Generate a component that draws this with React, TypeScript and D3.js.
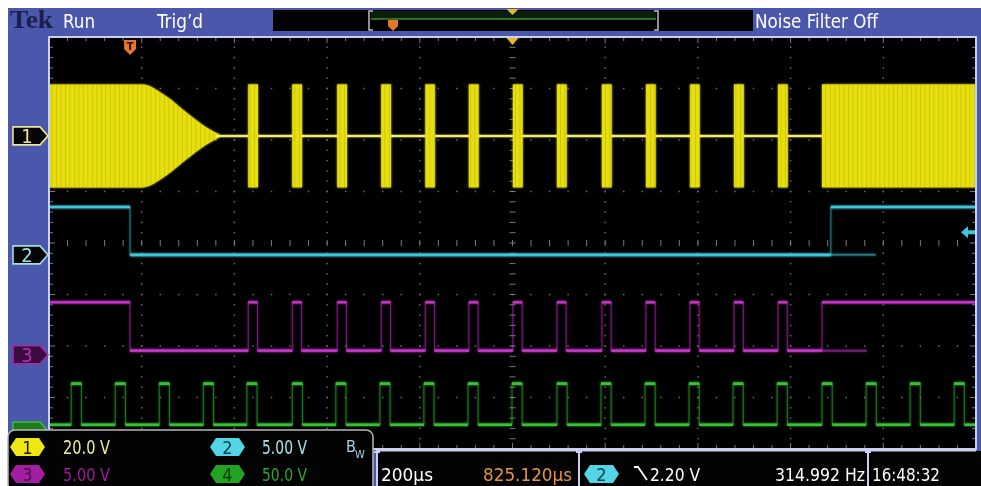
import * as d3 from 'd3';

const WIDTH = 981;
const HEIGHT = 486;
const NARROW = "'Liberation Sans Narrow', 'DejaVu Sans Condensed', 'Roboto Condensed', sans-serif";

// graticule on screen
const GRID = { left: 49, right: 976, top: 37, bottom: 449 };
const H_DIVS = 10;
const V_DIVS = 8;
const MINOR = 5;

// horizontal: 200 µs/div, trigger position 825.12 µs from centre
const timePerDiv = 200;
const horizontalPosition = 825.12;

// vertical: volts/div and ground offset (divisions from centre)
const ch1Scale = 20;
const ch1Offset = 2.08;
const ch2Scale = 5;
const ch2Offset = -0.23;
const ch3Scale = 5;
const ch3Offset = -2.17;
const ch4Scale = 50;
const ch4Offset = -3.65;
const ch2TriggerLevel = 2.2;

// ch1 - carrier envelope, decays after trigger, then bursts
const ch1Peak = 20;
const ch1DecayTimes = [-175, 26, 78, 121, 164, 194];
const ch1DecayLevels = [1, 1, 0.77, 0.46, 0.17, 0.02];
const burstTimes = [255, 350, 447, 542, 637, 731, 826, 921, 1018, 1113, 1208, 1303, 1398];
const burstWidth = 21;
const ch1ResumeTime = 1493;

// ch2
const ch2Times = [-175, 0, 0, 1512, 1512, 1825];
const ch2Volts = [4.65, 4.65, 0, 0, 4.65, 4.65];
const ch2GhostTimes = [1512, 1609];
const ch2GhostVolts = [0, 0];

// ch3 - pulses line up with ch1 bursts
const ch3Low = 0.4;
const ch3High = 5.1;
const ch3FallTime = 0;
const ch3RiseTime = 1493;
const ch3GhostEnd = 1590;
const ch3PulseWidth = 20;

// ch4 - clock
const ch4Edges = [-127, -32, 63, 158, 252, 350, 444, 539, 634, 729, 824, 921, 1016, 1111, 1206, 1301, 1396, 1493, 1588, 1683, 1778];
const ch4Low = 6;
const ch4High = 46;
const ch4PulseWidth = 22;

const YELLOW = '#e6de10';
const CYAN = '#3ec6d6';
const MAGENTA = '#c232c4';
const GREEN = '#34c234';
const BEZEL = '#4a57ab';
const FRAME = '#c9d0f2';

const x = d3
  .scaleLinear()
  .domain([horizontalPosition - (timePerDiv * H_DIVS) / 2, horizontalPosition + (timePerDiv * H_DIVS) / 2])
  .range([GRID.left, GRID.right]);
const yDiv = d3.scaleLinear().domain([-V_DIVS / 2, V_DIVS / 2]).range([GRID.bottom, GRID.top]);
const yv = (offset: number, scale: number) => (v: number) => yDiv(offset + v / scale);
const y1 = yv(ch1Offset, ch1Scale);
const y2 = yv(ch2Offset, ch2Scale);
const y3 = yv(ch3Offset, ch3Scale);
const y4 = yv(ch4Offset, ch4Scale);

const [tMin, tMax] = x.domain();

const pulseTrain = (
  starts: number[],
  width: number,
  low: number,
  high: number,
  from: number,
  to: number
): [number, number][] => {
  const pts: [number, number][] = [[from, low]];
  starts.forEach((t) => {
    pts.push([t, low], [t, high], [t + width, high], [t + width, low]);
  });
  pts.push([to, low]);
  return pts;
};

const line = d3
  .line<[number, number]>()
  .x((d) => x(d[0]))
  .y((d) => d[1]);

// digital traces: faint thin edges, bright thick levels
const Trace = ({ pts, color }: { pts: [number, number][]; color: string }) => {
  const segs: string[] = [];
  for (let i = 1; i < pts.length; i++) {
    if (pts[i][1] === pts[i - 1][1] && pts[i][0] !== pts[i - 1][0]) {
      segs.push(line([pts[i - 1], pts[i]]) ?? '');
    }
  }
  return (
    <g>
      <path d={line(pts) ?? ''} stroke={color} strokeWidth={1} fill="none" opacity={0.55} />
      <path d={segs.join('')} stroke={color} strokeWidth={2.6} fill="none" />
    </g>
  );
};

const Marker = ({ cy, label, stroke, fill, text }: { cy: number; label?: string; stroke: string; fill: string; text: string }) => (
  <g>
    <path d={`M13,${cy - 9}H40L48,${cy}L40,${cy + 9}H13Z`} fill={fill} stroke={stroke} strokeWidth={1.6} />
    {label && (
      <text x={27} y={cy + 7} fill={text} fontFamily={NARROW} fontSize={20} textAnchor="middle">
        {label}
      </text>
    )}
  </g>
);

const Badge = ({ x0, y0, label, fill, text }: { x0: number; y0: number; label: string; fill: string; text: string }) => (
  <g>
    <path
      d={`M${x0 + 6},${y0}H${x0 + 29}L${x0 + 35},${y0 + 9}L${x0 + 29},${y0 + 18}H${x0 + 6}L${x0},${y0 + 9}Z`}
      fill={fill}
    />
    <text x={x0 + 17.5} y={y0 + 15.5} fill={text} fontFamily={NARROW} fontSize={18} textAnchor="middle">
      {label}
    </text>
  </g>
);

const IBeam = ({ x0 }: { x0: number }) => (
  <path d={`M${x0 - 3},452H${x0 + 3}M${x0},452V486`} stroke={FRAME} strokeWidth={2} fill="none" />
);

const Label = ({ x0, y0, w, fill, children, size = 19 }: { x0: number; y0: number; w: number; fill: string; children: string; size?: number }) => (
  <text x={x0} y={y0} fontFamily={NARROW} fontSize={size} fill={fill} textLength={w} lengthAdjust="spacingAndGlyphs">
    {children}
  </text>
);

export default function App() {
  const divW = (GRID.right - GRID.left) / H_DIVS;
  const divH = (GRID.bottom - GRID.top) / V_DIVS;
  const cx = (GRID.left + GRID.right) / 2;
  const cy = (GRID.top + GRID.bottom) / 2;

  // graticule dots and ticks
  const dots: JSX.Element[] = [];
  for (let i = 1; i < H_DIVS; i++) {
    const gx = GRID.left + i * divW;
    if (i === H_DIVS / 2) continue;
    for (let k = 1; k < V_DIVS * MINOR; k++) {
      dots.push(<rect key={`v${i}-${k}`} x={gx - 0.75} y={GRID.top + (k * divH) / MINOR - 0.75} width={1.5} height={1.5} />);
    }
  }
  for (let j = 1; j < V_DIVS; j++) {
    const gy = GRID.top + j * divH;
    if (j === V_DIVS / 2) continue;
    for (let k = 1; k < H_DIVS * MINOR; k++) {
      dots.push(<rect key={`h${j}-${k}`} x={GRID.left + (k * divW) / MINOR - 0.75} y={gy - 0.75} width={1.5} height={1.5} />);
    }
  }
  const ticks: string[] = [];
  for (let k = 1; k < H_DIVS * MINOR; k++) {
    const tx = GRID.left + (k * divW) / MINOR;
    const len = k % MINOR === 0 ? 6 : 4;
    ticks.push(`M${tx},${cy - 3}V${cy + 3}`);
    ticks.push(`M${tx},${GRID.top}V${GRID.top + len}`);
    ticks.push(`M${tx},${GRID.bottom}V${GRID.bottom - len}`);
  }
  for (let k = 1; k < V_DIVS * MINOR; k++) {
    const ty = GRID.top + (k * divH) / MINOR;
    const len = k % MINOR === 0 ? 6 : 4;
    ticks.push(`M${cx - 3},${ty}H${cx + 3}`);
    ticks.push(`M${GRID.left},${ty}H${GRID.left + len}`);
    ticks.push(`M${GRID.right},${ty}H${GRID.right - len}`);
  }

  // ch1 envelope before bursts
  const envelope = d3
    .area<number>()
    .x((_, i) => x(ch1DecayTimes[i]))
    .y0((_, i) => y1(-ch1Peak * ch1DecayLevels[i]))
    .y1((_, i) => y1(ch1Peak * ch1DecayLevels[i]))
    .curve(d3.curveMonotoneX);

  const ch2Pts: [number, number][] = ch2Times.map((t, i) => [t, y2(ch2Volts[i])]);
  const ch2Ghost = line(ch2GhostTimes.map((t, i) => [t, y2(ch2GhostVolts[i])]));

  const ch3Pts: [number, number][] = [
    [tMin, ch3High],
    [ch3FallTime, ch3High],
    ...pulseTrain(burstTimes, ch3PulseWidth, ch3Low, ch3High, ch3FallTime, ch3RiseTime),
    [ch3RiseTime, ch3High],
    [tMax, ch3High],
  ].map(([t, v]) => [t, y3(v)] as [number, number]);
  const ch3Ghost = line([
    [ch3RiseTime, y3(ch3Low)],
    [ch3GhostEnd, y3(ch3Low)],
  ]);

  const ch4Pts = pulseTrain(ch4Edges, ch4PulseWidth, ch4Low, ch4High, tMin, tMax).map(
    ([t, v]) => [t, y4(v)] as [number, number]
  );

  return (
    <>
      <style>{`body{margin:0;overflow:hidden;background:#fff}`}</style>
      <svg width={WIDTH} height={HEIGHT} style={{ display: 'block' }}>
        <defs>
          <clipPath id="screen">
            <rect x={GRID.left} y={GRID.top} width={GRID.right - GRID.left} height={GRID.bottom - GRID.top} />
          </clipPath>
          <filter id="glow" x="-5%" y="-5%" width="110%" height="110%">
            <feGaussianBlur stdDeviation={1.2} result="b" />
            <feMerge>
              <feMergeNode in="b" />
              <feMergeNode in="SourceGraphic" />
            </feMerge>
          </filter>
          <pattern id="streaks" patternUnits="userSpaceOnUse" width={9} height={10}>
            <rect width={9} height={10} fill={YELLOW} />
            <rect x={2} width={1} height={10} fill="#b4aa0c" opacity={0.45} />
            <rect x={6} width={1.5} height={10} fill="#cac210" opacity={0.5} />
          </pattern>
        </defs>

        <rect width={WIDTH} height={HEIGHT} fill="#fff" />
        <rect x={8} y={8} width={WIDTH - 8} height={HEIGHT - 8} fill={BEZEL} />
        <rect x={GRID.left} y={GRID.top} width={GRID.right - GRID.left} height={GRID.bottom - GRID.top} fill="#000" />

        {/* graticule */}
        <g fill="#8c8c8c" opacity={0.75}>{dots}</g>
        <path d={ticks.join('')} stroke="#9a9a9a" strokeWidth={1} opacity={0.8} />

        {/* traces */}
        <g clipPath="url(#screen)" filter="url(#glow)">
          {/* ch1 */}
          <path d={envelope(ch1DecayTimes) ?? ''} fill="url(#streaks)" />
          <rect
            x={x(ch1ResumeTime)}
            y={y1(ch1Peak)}
            width={x(tMax) - x(ch1ResumeTime)}
            height={y1(-ch1Peak) - y1(ch1Peak)}
            fill="url(#streaks)"
          />
          <line
            x1={x(ch1DecayTimes[ch1DecayTimes.length - 1]) - 4}
            x2={x(ch1ResumeTime)}
            y1={y1(0)}
            y2={y1(0)}
            stroke="#f4ee76"
            strokeWidth={2}
          />
          {burstTimes.map((t) => (
            <rect
              key={t}
              x={x(t)}
              y={y1(ch1Peak)}
              width={x(t + burstWidth) - x(t)}
              height={y1(-ch1Peak) - y1(ch1Peak)}
              fill="url(#streaks)"
            />
          ))}

          {/* ch2 */}
          <path d={ch2Ghost ?? ''} stroke={CYAN} strokeWidth={2} fill="none" opacity={0.45} />
          <Trace pts={ch2Pts} color={CYAN} />

          {/* ch3 */}
          <path d={ch3Ghost ?? ''} stroke={MAGENTA} strokeWidth={2} fill="none" opacity={0.45} />
          <Trace pts={ch3Pts} color={MAGENTA} />

          {/* ch4 */}
          <Trace pts={ch4Pts} color={GREEN} />
        </g>

        {/* frame */}
        <rect
          x={GRID.left}
          y={GRID.top}
          width={GRID.right - GRID.left}
          height={GRID.bottom - GRID.top}
          fill="none"
          stroke={FRAME}
          strokeWidth={2}
        />

        {/* trigger position and expansion markers */}
        <path d={`M${x(0) - 6},40H${x(0) + 6}V49L${x(0)},55L${x(0) - 6},49Z`} fill="#e4782a" />
        <text x={x(0)} y={50} fill="#2a1000" fontFamily={NARROW} fontSize={11} fontWeight="bold" textAnchor="middle">
          T
        </text>
        <path d={`M${cx - 6},38H${cx + 6}L${cx},45Z`} fill="#e8b832" />
        {/* ch2 trigger level */}
        <path d={`M${GRID.right - 15},${y2(ch2TriggerLevel)}l7,-6v4h7v4h-7v4Z`} fill={CYAN} />

        {/* channel ground markers */}
        <Marker cy={y1(0)} label="1" stroke="#ece49c" fill="#050505" text="#ece49c" />
        <Marker cy={y2(0)} label="2" stroke="#9ce0e6" fill="#050505" text="#9ce0e6" />
        <Marker cy={y3(0)} label="3" stroke="#a828a8" fill="#3a0c40" text="#b030b0" />
        <Marker cy={y4(0)} stroke={GREEN} fill="#1e7a1e" text="#0a300a" />

        {/* top status bar */}
        <text
          x={10}
          y={28}
          fontFamily="'Liberation Serif', 'DejaVu Serif', serif"
          fontWeight="bold"
          fontSize={25}
          fill="#1b1f4d"
          textLength={43}
          lengthAdjust="spacingAndGlyphs"
        >
          Tek
        </text>
        <Label x0={63} y0={28} w={32} fill="#fff">Run</Label>
        <Label x0={157} y0={28} w={46} fill="#fff">Trig’d</Label>
        <rect x={273} y={10} width={480} height={21} fill="#020202" />
        <rect x={371} y={11} width={285} height={8} fill="#0b200c" />
        <line x1={371} x2={656} y1={19} y2={19} stroke="#5cbf5c" strokeWidth={1.2} />
        <path d="M373,11H369V30H373M654,11H658V30H654" stroke="#bfbfbf" strokeWidth={1.5} fill="none" />
        <path d="M388,20H398V26L393,31L388,26Z" fill="#e4782a" />
        <path d={`M${cx - 6},9H${cx + 6}L${cx},15Z`} fill="#e8b832" />
        <Label x0={755} y0={28} w={123} fill="#fff">Noise Filter Off</Label>

        {/* bottom readout panel */}
        <rect x={376} y={451} width={WIDTH - 376} height={HEIGHT - 451} fill="#030303" />
        <line x1={376} x2={GRID.right} y1={450.5} y2={450.5} stroke={FRAME} strokeWidth={2} />
        <IBeam x0={377} />
        <IBeam x0={579} />
        <IBeam x0={868} />
        <Label x0={381} y0={481} w={52} fill="#fff" size={18}>200µs</Label>
        <Label x0={483} y0={481} w={89} fill="#e8963c" size={18}>825.120µs</Label>
        <Badge x0={584} y0={465} label="2" fill="#52d6e6" text="#10404c" />
        <path d="M634,467H638L647,480" stroke="#fff" strokeWidth={1.8} fill="none" />
        <Label x0={650} y0={481} w={50} fill="#fff" size={18}>2.20 V</Label>
        <Label x0={775} y0={481} w={90} fill="#fff" size={18}>314.992 Hz</Label>
        <Label x0={872} y0={481} w={68} fill="#fff" size={18}>16:48:32</Label>

        {/* channel scale box */}
        <rect x={8} y={430} width={365} height={62} rx={7} fill="#030303" stroke="#b8b8b8" strokeWidth={1.5} />
        <Badge x0={10} y0={438} label="1" fill="#f0e614" text="#1a1a00" />
        <Label x0={63} y0={454} w={47} fill="#ecec9c">20.0 V</Label>
        <Badge x0={210} y0={438} label="2" fill="#52d6e6" text="#10404c" />
        <Label x0={262} y0={454} w={45} fill="#a8e2e6">5.00 V</Label>
        <text x={346} y={452} fontFamily={NARROW} fontSize={16} fill="#a8d4e4">
          B
        </text>
        <text x={355} y={458} fontFamily={NARROW} fontSize={11} fill="#a8d4e4">
          W
        </text>
        <Badge x0={10} y0={465} label="3" fill="#a21ea2" text="#4a0a4a" />
        <Label x0={63} y0={481} w={47} fill="#9c1c9c" size={18}>5.00 V</Label>
        <Badge x0={210} y0={465} label="4" fill="#22a422" text="#0a3a0a" />
        <Label x0={262} y0={481} w={45} fill="#2aa82a" size={18}>50.0 V</Label>
      </svg>
    </>
  );
}
